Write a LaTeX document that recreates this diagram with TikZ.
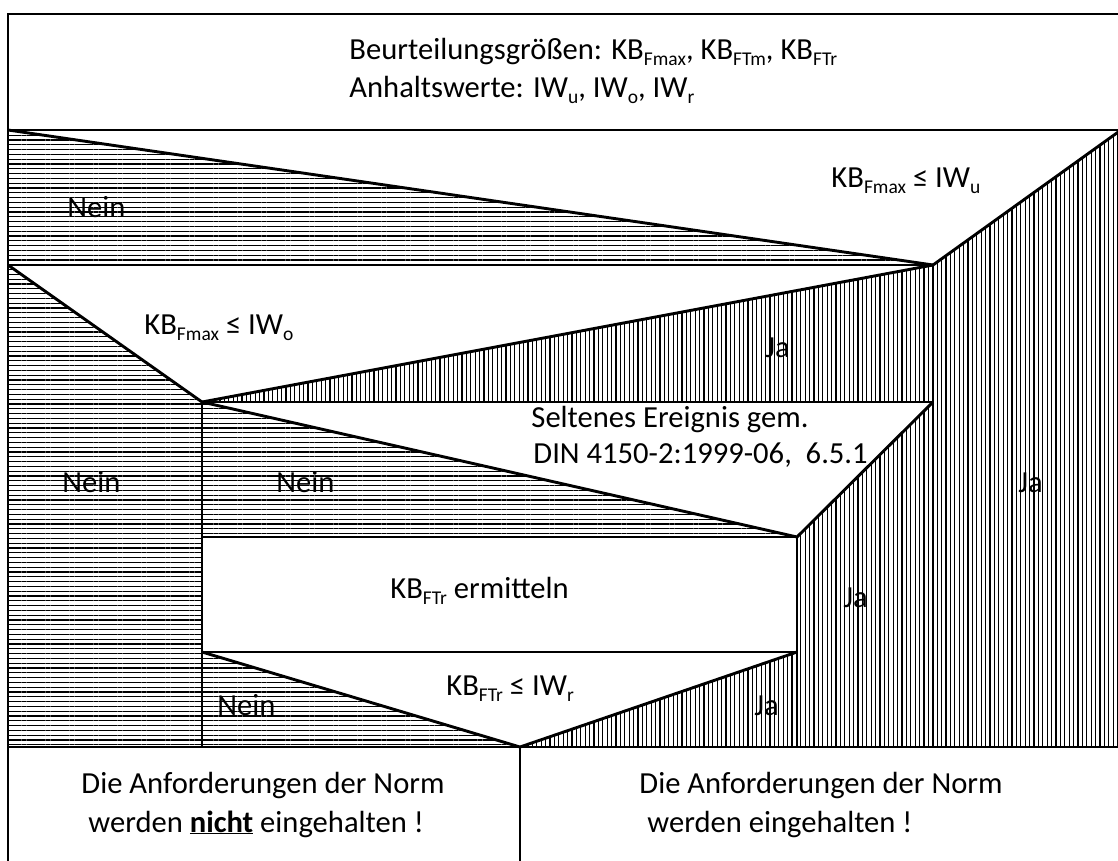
\documentclass[tikz,border=0pt]{standalone}
\usepackage{fontspec}
\setmainfont{Carlito}
\usetikzlibrary{patterns.meta}
\newcommand{\sub}[1]{\raisebox{-6.5pt}{\fontsize{19.5}{20}\selectfont #1}}
\begin{document}
\begin{tikzpicture}[x=1pt, y=-1pt, line width=2.9pt, line join=miter,
                    nein/.style={pattern={Lines[angle=0,distance=4.8pt,line width=1.1pt]}},
                    ja/.style={pattern={Lines[angle=90,distance=4.4pt,line width=1.1pt]}},
                    txt/.style={anchor=base west, inner sep=0pt, font=\fontsize{30.6}{38}\selectfont}]
\useasboundingbox (0,0) rectangle (1118,860);
\clip (0,0) rectangle (1118,860);

\coordinate (tl) at (8,14);
\coordinate (tr) at (1121,14);
\coordinate (a) at (8,130);
\coordinate (ar) at (1121,130);
\coordinate (b) at (933,265);
\coordinate (bl) at (8,265);
\coordinate (c) at (202,402);
\coordinate (cr) at (933,402);
\coordinate (d) at (797,537);
\coordinate (dl) at (202,537);
\coordinate (el) at (202,652);
\coordinate (er) at (797,652);
\coordinate (f) at (520,747);
\coordinate (fl) at (8,747);
\coordinate (fc) at (202,747);
\coordinate (fd) at (797,747);
\coordinate (fb) at (933,747);
\coordinate (fr) at (1121,747);
\coordinate (g) at (520,864);

\fill[nein] (a) -- (b) -- (bl) -- cycle;
\fill[ja] (b) -- (ar) -- (fr) -- (fb) -- cycle;
\fill[nein] (bl) -- (c) -- (fc) -- (fl) -- cycle;
\fill[ja] (c) -- (b) -- (cr) -- cycle;
\fill[nein] (c) -- (d) -- (dl) -- cycle;
\fill[ja] (d) -- (cr) -- (fb) -- (fd) -- cycle;
\fill[nein] (el) -- (f) -- (fc) -- cycle;
\fill[ja] (f) -- (er) -- (fd) -- cycle;

\draw (tl) -- (tr) -- (1121,864) -- (8,864) -- cycle;
\draw (a) -- (ar);
\draw (a) -- (b) -- (ar);
\draw (bl) -- (b) -- (fb);
\draw (bl) -- (c) -- (b);
\draw (c) -- (cr);
\draw (c) -- (fc);
\draw (c) -- (d) -- (cr);
\draw (dl) -- (d) -- (fd);
\draw (el) -- (er);
\draw (el) -- (f) -- (er);
\draw (fl) -- (fr);
\draw (f) -- (g);

\node[txt] (hdr1) at (348,59) {Beurteilungsgrößen: KB\sub{Fmax}, KB\sub{FTm}, KB\sub{FTr}};
\node[txt] (hdr2) at (348,97) {Anhaltswerte: IW\sub{u}, IW\sub{o}, IW\sub{r}};
\node[txt] (condu) at (830,187) {KB\sub{Fmax} ≤ IW\sub{u}};
\node[txt] (neinu) at (66,217) {Nein};
\node[txt] (condo) at (143,334) {KB\sub{Fmax} ≤ IW\sub{o}};
\node[txt] (jao) at (764,357) {Ja};
\node[txt] (sel1) at (530,427) {Seltenes Ereignis gem.};
\node[txt] (sel2) at (532,463) {DIN 4150-2:1999-06,\ \ 6.5.1};
\node[txt] (neino) at (61,492) {Nein};
\node[txt] (neinsel) at (275,492) {Nein};
\node[txt] (jau) at (1017,492) {Ja};
\node[txt] (calc) at (389,598) {KB\sub{FTr} ermitteln};
\node[txt] (jasel) at (842,607) {Ja};
\node[txt] (condr) at (445,695) {KB\sub{FTr} ≤ IW\sub{r}};
\node[txt] (neinr) at (216,715) {Nein};
\node[txt] (jar) at (753,715) {Ja};
\node[txt] (fail1) at (80,793) {Die Anforderungen der Norm};
\node[txt] (fail2) at (87,832) {werden \textbf{\underline{nicht}} eingehalten !};
\node[txt] (pass1) at (638,793) {Die Anforderungen der Norm};
\node[txt] (pass2) at (646,832) {werden eingehalten !};
\end{tikzpicture}
\end{document}
